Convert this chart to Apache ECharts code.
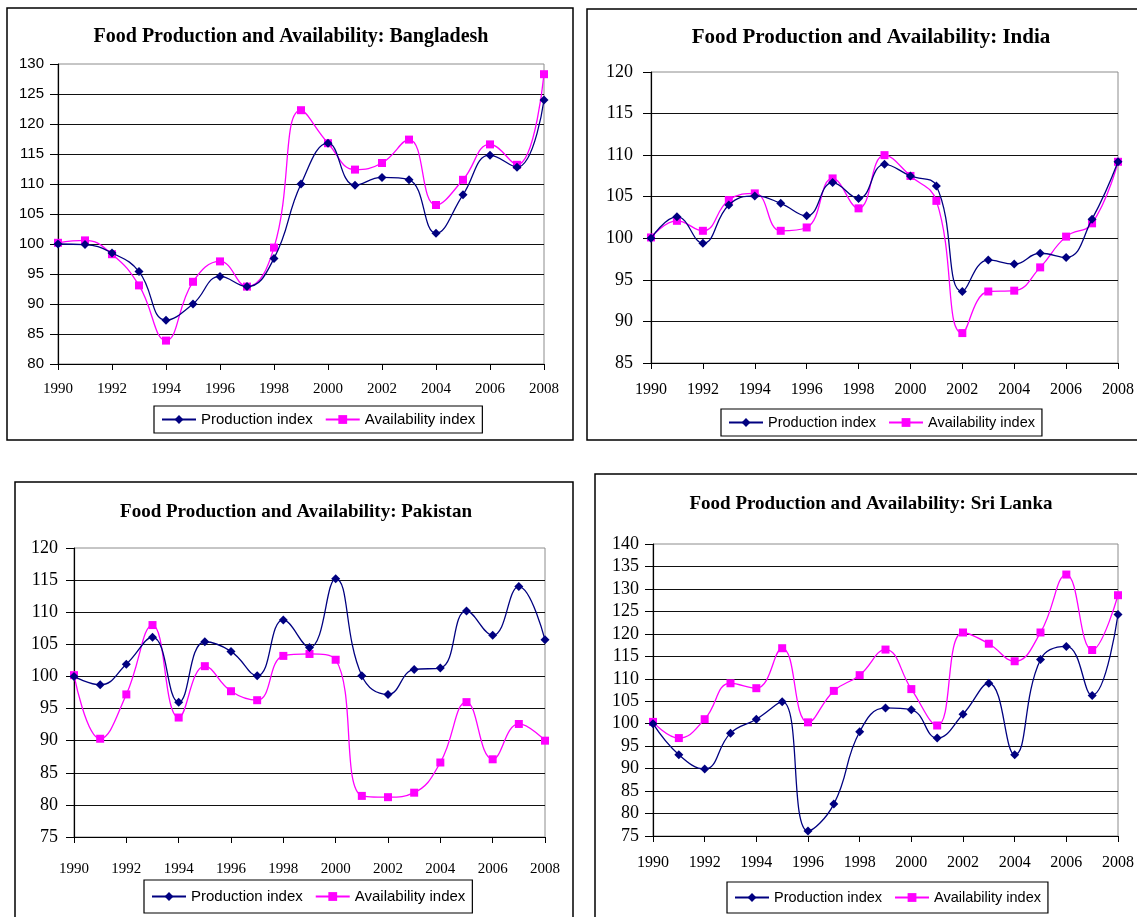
<!DOCTYPE html>
<html>
<head>
<meta charset="utf-8">
<title>Food Production and Availability</title>
<script src="https://cdn.jsdelivr.net/npm/echarts@6/dist/echarts.min.js"></script>
<style>
  html, body { margin: 0; padding: 0; background: #fff; }
  #chart { width: 1137px; height: 917px; }
</style>
</head>
<body>
<div id="chart"></div>
<script>
// years on the x axis
const years = ['1990', '1991', '1992', '1993', '1994', '1995', '1996', '1997', '1998', '1999',
  '2000', '2001', '2002', '2003', '2004', '2005', '2006', '2007', '2008']

// Bangladesh
const bdProduction = [100.0, 99.9, 98.5, 95.4, 87.3, 90.0, 94.6, 92.9, 97.6, 110.0, 116.8, 109.8, 111.1, 110.7, 101.8, 108.2, 114.8, 112.8, 124.0]
const bdAvailability = [100.2, 100.6, 98.3, 93.1, 83.9, 93.7, 97.1, 92.9, 99.4, 122.3, 116.8, 112.4, 113.5, 117.4, 106.5, 110.7, 116.6, 113.2, 128.3]
// India
const inProduction = [100.0, 102.6, 99.4, 104.0, 105.1, 104.2, 102.7, 106.7, 104.8, 108.9, 107.5, 106.3, 93.6, 97.4, 96.9, 98.2, 97.7, 102.3, 109.2]
const inAvailability = [100.1, 102.1, 100.9, 104.6, 105.4, 100.9, 101.3, 107.2, 103.6, 110.0, 107.5, 104.5, 88.6, 93.6, 93.7, 96.5, 100.2, 101.8, 109.2]
// Pakistan
const pkProduction = [100.0, 98.7, 101.9, 106.1, 96.0, 105.4, 103.9, 100.1, 108.8, 104.5, 115.2, 100.1, 97.2, 101.1, 101.3, 110.2, 106.4, 114.0, 105.7]
const pkAvailability = [100.2, 90.3, 97.2, 108.0, 93.6, 101.6, 97.7, 96.3, 103.2, 103.5, 102.6, 81.4, 81.2, 81.9, 86.6, 96.0, 87.1, 92.6, 90.0]
// Sri Lanka
const slProduction = [100.0, 93.1, 89.9, 97.9, 101.0, 104.9, 76.1, 82.1, 98.2, 103.5, 103.1, 96.8, 102.1, 109.0, 93.1, 114.3, 117.2, 106.3, 124.3]
const slAvailability = [100.4, 96.8, 101.0, 109.0, 107.9, 116.8, 100.3, 107.3, 110.8, 116.5, 107.7, 99.6, 120.3, 117.8, 113.9, 120.3, 133.2, 116.4, 128.6]

const seriesNames = ['Production index', 'Availability index']

const SERIF = '"Liberation Serif", "Times New Roman", serif'
const SANS = '"Liberation Sans", Arial, sans-serif'
const NAVY = '#000080'
const MAGENTA = '#FF00FF'

// layout of the four panels
const panels = [
  {
    country: 'Bangladesh', prod: bdProduction, avail: bdAvailability,
    box: [7, 8, 566, 432], titleX: 291, titleY: 27, titleSize: 20,
    grid: { left: 58, top: 64, width: 486, height: 300 },
    yMin: 80, yMax: 130, yFont: SANS, ySize: 15, yMargin: 14,
    xSize: 15, xMargin: 18,
    legend: { left: 154, top: 406, size: 15, padV: 6, padH: 7 }
  },
  {
    country: 'India', prod: inProduction, avail: inAvailability,
    box: [587, 9, 560, 431], titleX: 871, titleY: 27, titleSize: 21,
    grid: { left: 651, top: 72, width: 467, height: 291 },
    yMin: 85, yMax: 120, yFont: SERIF, ySize: 18, yMargin: 18,
    xSize: 16, xMargin: 19,
    legend: { left: 721, top: 409, size: 14.5, padV: 6, padH: 7 }
  },
  {
    country: 'Pakistan', prod: pkProduction, avail: pkAvailability,
    box: [15, 482, 558, 440], titleX: 296, titleY: 503, titleSize: 19,
    grid: { left: 74, top: 548, width: 471, height: 289 },
    yMin: 75, yMax: 120, yFont: SERIF, ySize: 18, yMargin: 16,
    xSize: 15, xMargin: 25,
    legend: { left: 144, top: 880, size: 15, padV: 9, padH: 7 }
  },
  {
    country: 'Sri Lanka', prod: slProduction, avail: slAvailability,
    box: [595, 474, 560, 450], titleX: 871, titleY: 495, titleSize: 19,
    grid: { left: 653, top: 544, width: 465, height: 292 },
    yMin: 75, yMax: 140, yFont: SERIF, ySize: 18, yMargin: 14,
    xSize: 16, xMargin: 19,
    legend: { left: 727, top: 882, size: 14.5, padV: 8, padH: 7 }
  }
]

const chart = echarts.init(document.getElementById('chart'), null, { renderer: 'canvas' })

const option = {
  animation: false,
  backgroundColor: '#fff',
  title: [],
  legend: [],
  grid: [],
  xAxis: [],
  yAxis: [],
  series: [],
  graphic: []
}

panels.forEach((p, i) => {
  // panel frame
  option.graphic.push({
    type: 'rect',
    shape: { x: p.box[0], y: p.box[1], width: p.box[2], height: p.box[3] },
    style: { fill: 'none', stroke: '#000', lineWidth: 1.5 },
    silent: true,
    z: -1
  })

  option.title.push({
    text: 'Food Production and Availability: ' + p.country,
    left: p.titleX,
    top: p.titleY,
    textAlign: 'center',
    padding: 0,
    textStyle: { fontFamily: SERIF, fontWeight: 'bold', fontSize: p.titleSize, color: '#000' }
  })

  option.grid.push({
    left: p.grid.left, top: p.grid.top, width: p.grid.width, height: p.grid.height,
    show: true, borderColor: '#8c8c8c', borderWidth: 1, backgroundColor: 'transparent'
  })

  option.xAxis.push({
    type: 'category',
    gridIndex: i,
    data: years,
    boundaryGap: false,
    axisLine: { lineStyle: { color: '#000', width: 1.2 } },
    axisTick: { show: true, interval: 1, length: 6, lineStyle: { color: '#000' } },
    axisLabel: { interval: 1, margin: p.xMargin, fontFamily: SERIF, fontSize: p.xSize, color: '#000' },
    splitLine: { show: false }
  })

  option.yAxis.push({
    type: 'value',
    gridIndex: i,
    min: p.yMin,
    max: p.yMax,
    interval: 5,
    axisLine: { show: true, lineStyle: { color: '#000', width: 1.2 } },
    axisTick: { show: true, length: 8, lineStyle: { color: '#000' } },
    axisLabel: { margin: p.yMargin, fontFamily: p.yFont, fontSize: p.ySize, color: '#000' },
    splitLine: { show: true, showMaxLine: false, lineStyle: { color: '#111', width: 1 } }
  })

  option.series.push({
    name: seriesNames[0],
    type: 'line',
    xAxisIndex: i,
    yAxisIndex: i,
    data: p.prod,
    smooth: 0.45,
    symbol: 'diamond',
    symbolSize: 9,
    lineStyle: { color: NAVY, width: 1.3 },
    itemStyle: { color: NAVY },
    z: 3
  })
  option.series.push({
    name: seriesNames[1],
    type: 'line',
    xAxisIndex: i,
    yAxisIndex: i,
    data: p.avail,
    smooth: 0.45,
    symbol: 'rect',
    symbolSize: 8,
    lineStyle: { color: MAGENTA, width: 1.3 },
    itemStyle: { color: MAGENTA },
    z: 2
  })

  option.legend.push({
    data: seriesNames,
    left: p.legend.left,
    top: p.legend.top,
    orient: 'horizontal',
    itemWidth: 34,
    itemHeight: 11,
    itemGap: 12,
    padding: [p.legend.padV, p.legend.padH],
    borderColor: '#000',
    borderWidth: 1.2,
    backgroundColor: '#fff',
    textStyle: { fontFamily: SANS, fontSize: p.legend.size, color: '#000' }
  })
})

chart.setOption(option)

window.addEventListener('resize', () => chart.resize())
</script>
</body>
</html>
